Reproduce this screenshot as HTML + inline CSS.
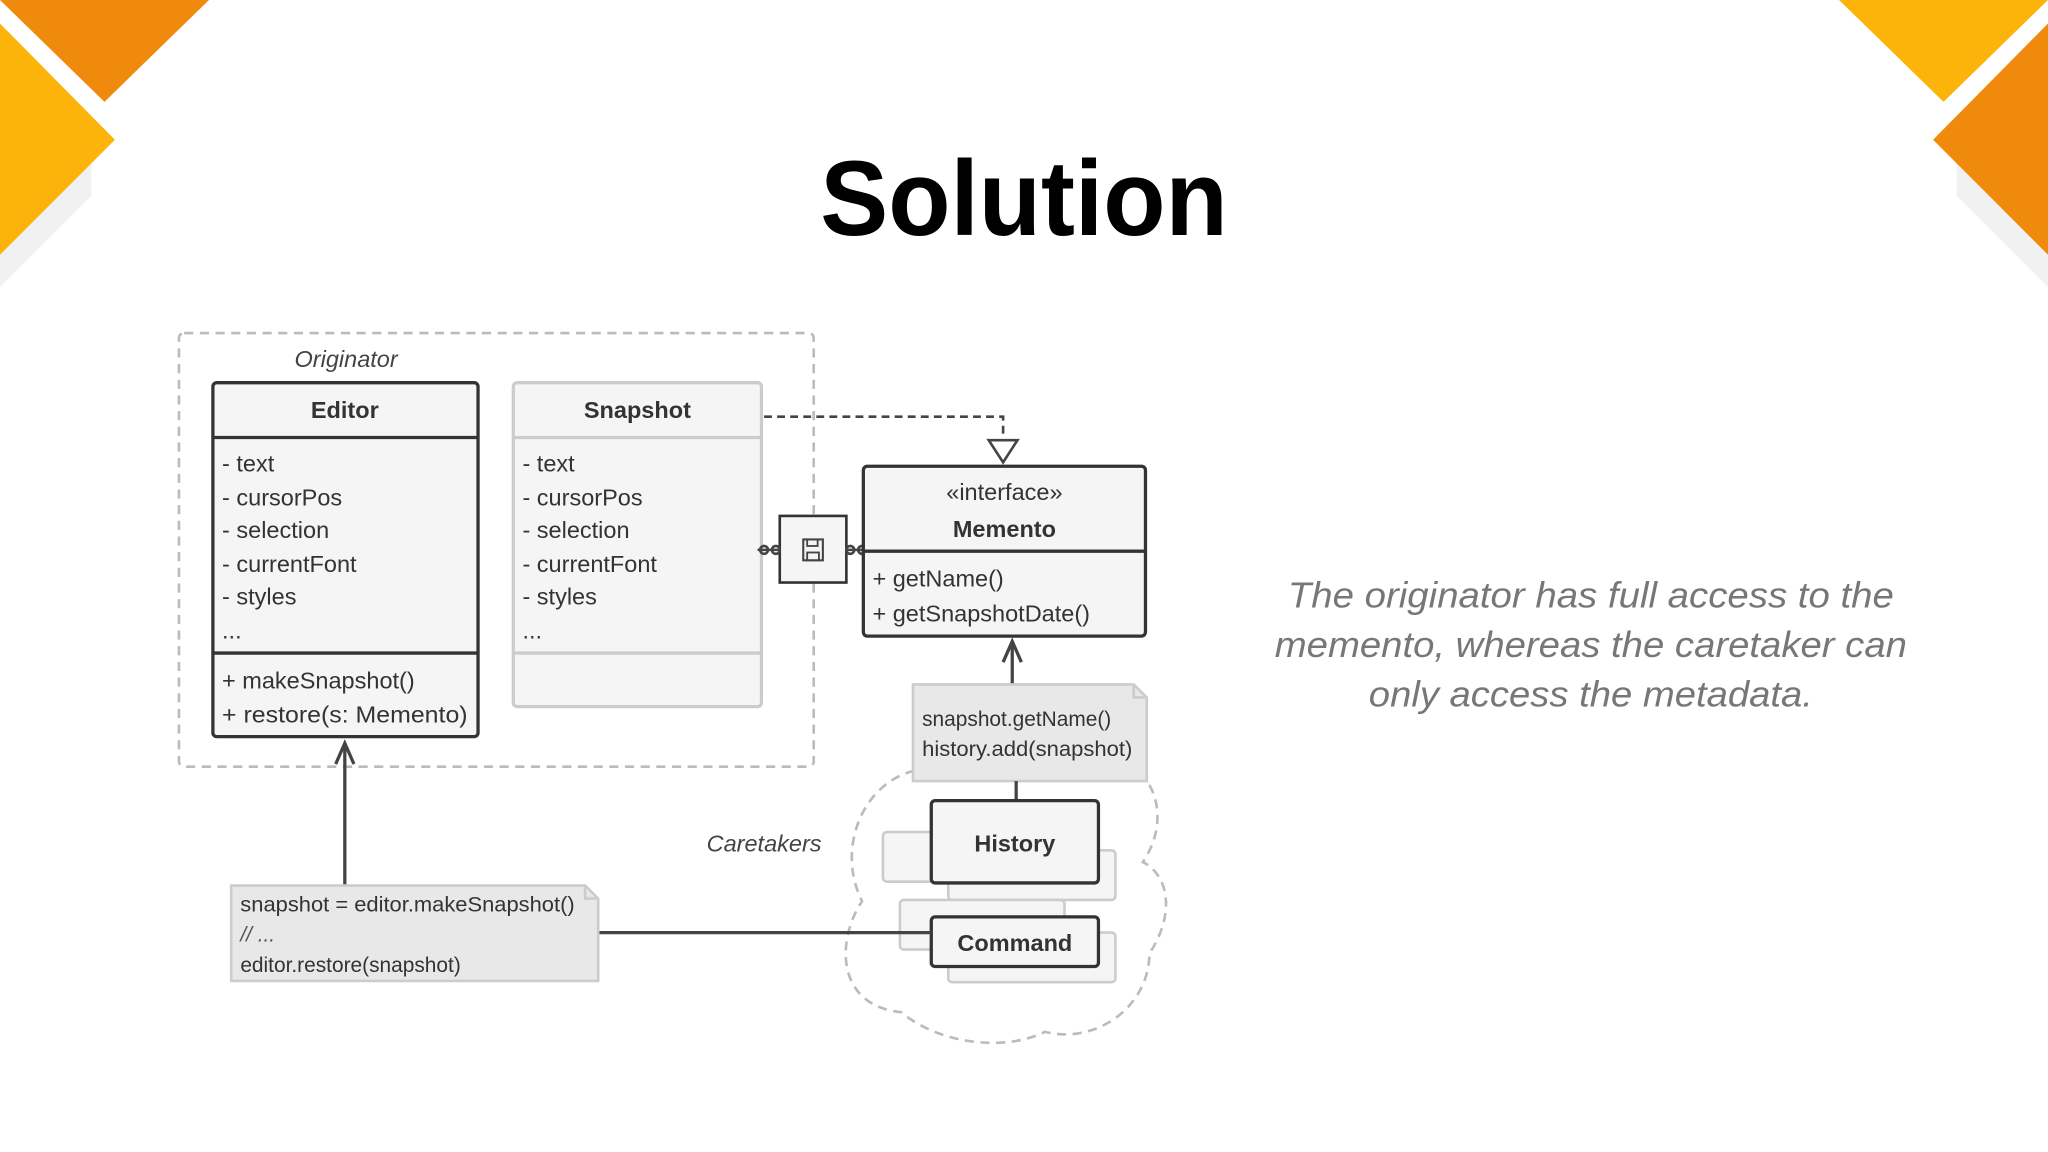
<!DOCTYPE html>
<html><head><meta charset="utf-8"><style>
html,body{margin:0;padding:0;background:#fff;}
svg{display:block;}
text{font-family:"Liberation Sans",sans-serif;}
</style></head><body>
<svg width="2048" height="1152" viewBox="0 0 1568 882" xmlns="http://www.w3.org/2000/svg">
<rect width="1568" height="882" fill="#fff"/>
<!-- corners -->
<polygon points="0,40 70,110 70,150 0,220" fill="#f1f1f1"/>
<polygon points="1568,40 1498,110 1498,150 1568,220" fill="#f1f1f1"/>
<polygon points="0,0 160,0 80,78 0,0" fill="#ef8a0c"/>
<polygon points="0,18 88,107 0,195" fill="#fdb40a"/>
<polygon points="1408,0 1568,0 1488,78" fill="#fdb40a"/>
<polygon points="1568,18 1480,107 1568,195" fill="#ef8a0c"/>
<!-- title -->
<text x="784" y="180" font-size="82" font-weight="bold" text-anchor="middle" fill="#000" textLength="312" lengthAdjust="spacingAndGlyphs">Solution</text>
<!-- originator box -->
<rect x="137" y="255" width="486" height="332" rx="4" fill="none" stroke="#bbb" stroke-width="2" stroke-dasharray="7,5"/>
<text x="265" y="281" font-size="18" font-style="italic" fill="#444" text-anchor="middle">Originator</text>
<!-- Editor -->
<rect x="163" y="293" width="203" height="271" rx="3" fill="#f5f5f5" stroke="#333" stroke-width="2.5"/>
<line x1="163" y1="335" x2="366" y2="335" stroke="#333" stroke-width="2.5"/>
<line x1="163" y1="500" x2="366" y2="500" stroke="#333" stroke-width="2.5"/>
<text x="264" y="320" font-size="18" font-weight="bold" fill="#333" text-anchor="middle">Editor</text>
<g font-size="18" fill="#333">
<text x="170" y="361">- text</text>
<text x="170" y="387">- cursorPos</text>
<text x="170" y="412">- selection</text>
<text x="170" y="438">- currentFont</text>
<text x="170" y="463">- styles</text>
<text x="170" y="489">...</text>
<text x="170" y="527">+ makeSnapshot()</text>
<text x="170" y="553" textLength="188" lengthAdjust="spacingAndGlyphs">+ restore(s: Memento)</text>
</g>
<!-- Snapshot -->
<rect x="393" y="293" width="190" height="248" rx="3" fill="#f5f5f5" stroke="#ccc" stroke-width="2.5"/>
<line x1="393" y1="335" x2="583" y2="335" stroke="#ccc" stroke-width="2.5"/>
<line x1="393" y1="500" x2="583" y2="500" stroke="#ccc" stroke-width="2.5"/>
<text x="488" y="320" font-size="18" font-weight="bold" fill="#333" text-anchor="middle">Snapshot</text>
<g font-size="18" fill="#333">
<text x="400" y="361">- text</text>
<text x="400" y="387">- cursorPos</text>
<text x="400" y="412">- selection</text>
<text x="400" y="438">- currentFont</text>
<text x="400" y="463">- styles</text>
<text x="400" y="489">...</text>
</g>
<!-- realization -->
<polyline points="585,319 768,319 768,336" fill="none" stroke="#444" stroke-width="2" stroke-dasharray="6,4"/>
<polygon points="757,337 779,337 768,354" fill="#fff" stroke="#444" stroke-width="2"/>
<!-- save box -->
<rect x="597" y="395" width="51" height="51" fill="#f5f5f5" stroke="#333" stroke-width="2"/>
<rect x="615" y="413" width="15" height="16" fill="none" stroke="#444" stroke-width="1.6"/>
<rect x="618" y="413" width="8" height="5" fill="none" stroke="#444" stroke-width="1.4"/>
<rect x="618" y="423" width="9" height="6" fill="none" stroke="#444" stroke-width="1.4"/>
<g fill="none" stroke="#444" stroke-width="2">
<line x1="580" y1="421" x2="597" y2="421"/>
<circle cx="585" cy="421" r="3"/><circle cx="594" cy="421" r="3"/>
<line x1="648" y1="421" x2="664" y2="421"/>
<circle cx="651" cy="421" r="3"/><circle cx="660" cy="421" r="3"/>
</g>
<!-- Memento -->
<rect x="661" y="357" width="216" height="130" rx="3" fill="#f5f5f5" stroke="#333" stroke-width="2.5"/>
<line x1="661" y1="422" x2="877" y2="422" stroke="#333" stroke-width="2.5"/>
<text x="769" y="383" font-size="18" fill="#333" text-anchor="middle">«interface»</text>
<text x="769" y="411" font-size="18" font-weight="bold" fill="#333" text-anchor="middle">Memento</text>
<text x="668" y="449" font-size="18" fill="#333">+ getName()</text>
<text x="668" y="476" font-size="18" fill="#333">+ getSnapshotDate()</text>
<!-- arrow note -> memento -->
<line x1="775" y1="524" x2="775" y2="491" stroke="#444" stroke-width="2.5"/>
<polyline points="768,507 775,491 782,507" fill="none" stroke="#444" stroke-width="2.5"/>
<!-- cloud -->
<path d="M700,590 C660,600 640,650 660,690 C640,720 640,770 690,775 C720,800 770,805 800,790 C840,800 880,770 880,730 C900,700 895,670 875,660 C895,630 885,600 870,590" fill="none" stroke="#bbb" stroke-width="2" stroke-dasharray="7,5"/>
<!-- note 1 -->
<path d="M699,524 L868,524 L878,534 L878,598 L699,598 Z" fill="#e8e8e8" stroke="#ccc" stroke-width="2"/>
<path d="M868,524 L868,534 L878,534" fill="none" stroke="#ccc" stroke-width="2"/>
<text x="706" y="556" font-size="16" fill="#333">snapshot.getName()</text>
<text x="706" y="579" font-size="16" fill="#333" textLength="161" lengthAdjust="spacingAndGlyphs">history.add(snapshot)</text>
<line x1="778" y1="598" x2="778" y2="613" stroke="#444" stroke-width="2.5"/>
<!-- history stack -->
<rect x="676" y="637" width="128" height="38" rx="3" fill="#f5f5f5" stroke="#ccc" stroke-width="2"/>
<rect x="726" y="651" width="128" height="38" rx="3" fill="#f5f5f5" stroke="#ccc" stroke-width="2"/>
<rect x="713" y="613" width="128" height="63" rx="3" fill="#f5f5f5" stroke="#333" stroke-width="2.5"/>
<text x="777" y="652" font-size="18" font-weight="bold" fill="#333" text-anchor="middle">History</text>
<!-- command stack -->
<rect x="689" y="689" width="126" height="38" rx="3" fill="#f5f5f5" stroke="#ccc" stroke-width="2"/>
<rect x="726" y="714" width="128" height="38" rx="3" fill="#f5f5f5" stroke="#ccc" stroke-width="2"/>
<rect x="713" y="702" width="128" height="38" rx="3" fill="#f5f5f5" stroke="#333" stroke-width="2.5"/>
<text x="777" y="728" font-size="18" font-weight="bold" fill="#333" text-anchor="middle">Command</text>
<text x="585" y="652" font-size="18" font-style="italic" fill="#444" text-anchor="middle">Caretakers</text>
<!-- note 2 -->
<line x1="458" y1="714" x2="713" y2="714" stroke="#444" stroke-width="2.5"/>
<line x1="264" y1="678" x2="264" y2="569" stroke="#444" stroke-width="2.5"/>
<polyline points="257,585 264,569 271,585" fill="none" stroke="#444" stroke-width="2.5"/>
<path d="M177,678 L448,678 L458,688 L458,751 L177,751 Z" fill="#e8e8e8" stroke="#ccc" stroke-width="2"/>
<path d="M448,678 L448,688 L458,688" fill="none" stroke="#ccc" stroke-width="2"/>
<text x="184" y="698" font-size="16" fill="#333" textLength="256" lengthAdjust="spacingAndGlyphs">snapshot = editor.makeSnapshot()</text>
<text x="184" y="721" font-size="16" font-style="italic" fill="#555">// ...</text>
<text x="184" y="744" font-size="16" fill="#333">editor.restore(snapshot)</text>
<!-- right text -->
<g font-size="28" font-style="italic" fill="#777" text-anchor="middle">
<text x="1218" y="465" textLength="464" lengthAdjust="spacingAndGlyphs">The originator has full access to the</text>
<text x="1218" y="503" textLength="484" lengthAdjust="spacingAndGlyphs">memento, whereas the caretaker can</text>
<text x="1218" y="541" textLength="340" lengthAdjust="spacingAndGlyphs">only access the metadata.</text>
</g>
</svg>
</body></html>
